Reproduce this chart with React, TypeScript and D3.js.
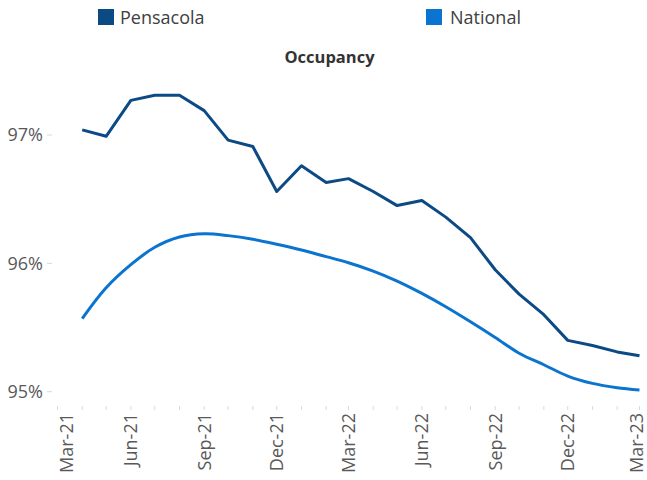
import React from "react";
import * as d3 from "d3";

const months: string[] = [
  "2021-04", "2021-05", "2021-06", "2021-07", "2021-08", "2021-09",
  "2021-10", "2021-11", "2021-12", "2022-01", "2022-02", "2022-03",
  "2022-04", "2022-05", "2022-06", "2022-07", "2022-08", "2022-09",
  "2022-10", "2022-11", "2022-12", "2023-01", "2023-02", "2023-03",
];

const pensacola: number[] = [
  97.04, 96.99, 97.27, 97.31, 97.31, 97.19, 96.96, 96.91, 96.56, 96.76, 96.63, 96.66,
  96.56, 96.45, 96.49, 96.36, 96.2, 95.95, 95.76, 95.6, 95.4, 95.36, 95.31, 95.28,
];

const national: number[] = [
  95.57, 95.81, 95.99, 96.125, 96.205, 96.23, 96.216, 96.188, 96.149, 96.104, 96.052, 96.005,
  95.94, 95.862, 95.766, 95.662, 95.545, 95.423, 95.3, 95.21, 95.122, 95.065, 95.031, 95.013,
];

const yTicks: number[] = [95, 96, 97];
const xTickLabels: string[] = [
  "Mar-21", "Jun-21", "Sep-21", "Dec-21", "Mar-22", "Jun-22", "Sep-22", "Dec-22", "Mar-23",
];

const seriesNames = ["Pensacola", "National"];
const colors = ["#0B4A85", "#0A74CF"];

const W = 647;
const H = 480;
const FONT = "'Open Sans', sans-serif";

export default function App() {
  const parse = d3.timeParse("%Y-%m");
  const dates = months.map((m) => parse(m) as Date);
  const start = new Date(2021, 2, 1);
  const end = new Date(2023, 2, 1);
  const x = d3.scaleTime().domain([start, end]).range([57.5, 639.5]);
  const y = d3.scaleLinear().domain([95, 97]).range([391.7, 135]);

  const lineStraight = d3
    .line<number>()
    .x((_, i) => x(dates[i]))
    .y((v) => y(v));
  const lineSmooth = d3
    .line<number>()
    .x((_, i) => x(dates[i]))
    .y((v) => y(v))
    .curve(d3.curveCatmullRom.alpha(0.5));

  const monthTicks = d3.timeMonth.range(start, d3.timeMonth.offset(end, 1));
  const labelDates = xTickLabels.map((_, i) => d3.timeMonth.offset(start, 3 * i));
  const axisY = 406;

  return (
    <svg
      width={W}
      height={H}
      style={{ position: "absolute", left: 0, top: 0, background: "#fff" }}
    >
      {/* legend */}
      <rect x={98} y={9} width={16} height={16} fill={colors[0]} />
      <text x={120} y={24} fontFamily={FONT} fontSize={18} fill="#404040">
        {seriesNames[0]}
      </text>
      <rect x={426} y={9} width={16} height={16} fill={colors[1]} />
      <text x={450} y={24} fontFamily={FONT} fontSize={18} fill="#404040">
        {seriesNames[1]}
      </text>

      {/* title */}
      <text
        x={329.5}
        y={62.5}
        textAnchor="middle"
        fontFamily={FONT}
        fontSize={16.5}
        fontWeight="bold"
        fill="#333"
      >
        Occupancy
      </text>

      {/* y axis */}
      {yTicks.map((t) => (
        <g key={t}>
          <line x1={47} x2={52} y1={y(t)} y2={y(t)} stroke="#d9d9d9" strokeWidth={1} />
          <text
            x={43}
            y={y(t)}
            dy="0.36em"
            textAnchor="end"
            fontFamily={FONT}
            fontSize={18}
            fill="#595959"
          >
            {t}%
          </text>
        </g>
      ))}

      {/* x axis ticks */}
      {monthTicks.map((d, i) => (
        <line
          key={i}
          x1={x(d)}
          x2={x(d)}
          y1={axisY}
          y2={axisY + 4}
          stroke="#d9d9d9"
          strokeWidth={1}
        />
      ))}
      {labelDates.map((d, i) => {
        const shift = i === 0 ? 9.5 : i === labelDates.length - 1 ? -2.5 : 0;
        const cx = x(d) + shift;
        return (
          <text
            key={i}
            transform={`translate(${cx},413) rotate(-90)`}
            dy="0.35em"
            textAnchor="end"
            fontFamily={FONT}
            fontSize={18}
            fill="#595959"
          >
            {xTickLabels[i]}
          </text>
        );
      })}

      {/* lines */}
      <path
        d={lineSmooth(national) || ""}
        fill="none"
        stroke={colors[1]}
        strokeWidth={3}
        strokeLinejoin="round"
      />
      <path
        d={lineStraight(pensacola) || ""}
        fill="none"
        stroke={colors[0]}
        strokeWidth={3}
        strokeLinejoin="round"
      />
    </svg>
  );
}
